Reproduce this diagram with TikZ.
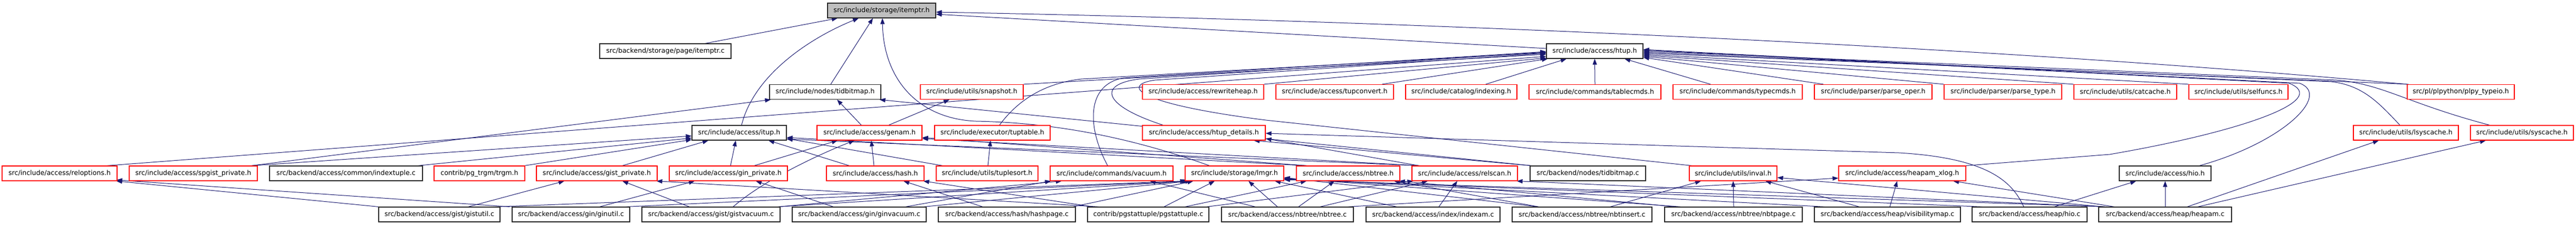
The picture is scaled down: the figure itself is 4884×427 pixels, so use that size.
\documentclass[tikz,border=0pt]{standalone}
\usepackage{fontspec}
\setmainfont{DejaVu Sans}
\usetikzlibrary{arrows.meta}
\definecolor{edgec}{RGB}{25,25,112}
\definecolor{redb}{RGB}{255,0,0}
\definecolor{greyf}{RGB}{191,191,191}
\pgfdeclarelayer{bg}
\pgfsetlayers{bg,main}
\begin{document}
\begin{tikzpicture}[x=1pt,y=-1pt,
  box/.style={rectangle, minimum height=28pt, inner sep=0pt, fill=white, line width=1.2pt, font=\fontsize{12.6}{15}\selectfont, anchor=center},
  rb/.style={box, draw=redb},
  bb/.style={box, draw=black!85},
  e/.style={draw=edgec, line width=1pt, -{Triangle[length=11pt,width=8pt]}}]
\useasboundingbox (0,0) rectangle (4884,427);
% row 0
\node[bb, fill=greyf, minimum width=205pt] (ip) at (1671.5,20) {src/include/storage/itemptr.h};
% row 1
\node[bb, minimum width=249pt] (ic) at (1261.5,97) {src/backend/storage/page/itemptr.c};
\node[bb, minimum width=183pt] (ht) at (3023.5,97) {src/include/access/htup.h};
% row 2
\node[bb, minimum width=211pt] (tb) at (1564.5,174.5) {src/include/nodes/tidbitmap.h};
\node[rb, minimum width=195pt] (sn) at (1842.5,174.5) {src/include/utils/snapshot.h};
\node[rb, minimum width=230pt] (rw) at (2281,174.5) {src/include/access/rewriteheap.h};
\node[rb, minimum width=223pt] (tc) at (2530.5,174.5) {src/include/access/tupconvert.h};
\node[rb, minimum width=211pt] (ix) at (2770.5,174.5) {src/include/catalog/indexing.h};
\node[rb, minimum width=250pt] (tcm) at (3024,174.5) {src/include/commands/tablecmds.h};
\node[rb, minimum width=245pt] (tyc) at (3294.5,174.5) {src/include/commands/typecmds.h};
\node[rb, minimum width=223pt] (po) at (3551.5,174.5) {src/include/parser/parse\_oper.h};
\node[rb, minimum width=223pt] (pt) at (3797.5,174.5) {src/include/parser/parse\_type.h};
\node[rb, minimum width=195pt] (cc) at (4029.5,174.5) {src/include/utils/catcache.h};
\node[rb, minimum width=188pt] (sf) at (4244,174.5) {src/include/utils/selfuncs.h};
\node[rb, minimum width=203pt] (py) at (4665.5,174.5) {src/pl/plpython/plpy\_typeio.h};
% row 3
\node[bb, minimum width=179pt] (it) at (1401.5,252) {src/include/access/itup.h};
\node[rb, minimum width=199pt] (ga) at (1648.5,252) {src/include/access/genam.h};
\node[rb, minimum width=219pt] (tt) at (1881.5,252) {src/include/executor/tuptable.h};
\node[rb, minimum width=233pt] (hd) at (2282.5,252) {src/include/access/htup\_details.h};
\node[rb, minimum width=199pt] (ls) at (4561.5,252) {src/include/utils/lsyscache.h};
\node[rb, minimum width=195pt] (sc) at (4781.5,252) {src/include/utils/syscache.h};
% row 4
\node[rb, minimum width=218pt] (ro) at (113,329) {src/include/access/reloptions.h};
\node[rb, minimum width=243pt] (sp) at (366.5,329) {src/include/access/spgist\_private.h};
\node[bb, minimum width=290pt] (itc) at (656,329) {src/backend/access/common/indextuple.c};
\node[rb, minimum width=172pt] (tg) at (909,329) {contrib/pg\_trgm/trgm.h};
\node[rb, minimum width=229pt] (gp) at (1131.5,329) {src/include/access/gist\_private.h};
\node[rb, minimum width=224pt] (gn) at (1381,329) {src/include/access/gin\_private.h};
\node[rb, minimum width=185pt] (hs) at (1659.5,329) {src/include/access/hash.h};
\node[rb, minimum width=193pt] (ts) at (1871.5,329) {src/include/utils/tuplesort.h};
\node[rb, minimum width=233pt] (vc) at (2107.5,329) {src/include/commands/vacuum.h};
\node[rb, minimum width=187pt] (lm) at (2340.5,329) {src/include/storage/lmgr.h};
\node[rb, minimum width=196pt] (nb) at (2556,329) {src/include/access/nbtree.h};
\node[rb, minimum width=200pt] (rs) at (2777,329) {src/include/access/relscan.h};
\node[bb, minimum width=219pt] (tbc) at (3010.5,329) {src/backend/nodes/tidbitmap.c};
\node[rb, minimum width=166pt] (iv) at (3286,329) {src/include/utils/inval.h};
\node[rb, minimum width=241pt] (hx) at (3606.5,329) {src/include/access/heapam\_xlog.h};
\node[bb, minimum width=174pt] (hh) at (4105,329) {src/include/access/hio.h};
% row 5
\node[bb, minimum width=230pt] (gu) at (833,407) {src/backend/access/gist/gistutil.c};
\node[bb, minimum width=223pt] (gnu) at (1082.5,407) {src/backend/access/gin/ginutil.c};
\node[bb, minimum width=262pt] (gv) at (1348,407) {src/backend/access/gist/gistvacuum.c};
\node[bb, minimum width=254pt] (gnv) at (1629,407) {src/backend/access/gin/ginvacuum.c};
\node[bb, minimum width=260pt] (hp) at (1909,407) {src/backend/access/hash/hashpage.c};
\node[bb, minimum width=230pt] (pg) at (2177,407) {contrib/pgstattuple/pgstattuple.c};
\node[bb, minimum width=250pt] (nbc) at (2441,407) {src/backend/access/nbtree/nbtree.c};
\node[bb, minimum width=254pt] (ia) at (2717,407) {src/backend/access/index/indexam.c};
\node[bb, minimum width=265pt] (ni) at (2999.5,407) {src/backend/access/nbtree/nbtinsert.c};
\node[bb, minimum width=261pt] (np) at (3286.5,407) {src/backend/access/nbtree/nbtpage.c};
\node[bb, minimum width=277pt] (vm) at (3578.5,407) {src/backend/access/heap/visibilitymap.c};
\node[bb, minimum width=218pt] (hc) at (3848,407) {src/backend/access/heap/hio.c};
\node[bb, minimum width=252pt] (hm) at (4105,407) {src/backend/access/heap/heapam.c};

\begin{pgfonlayer}{bg}
\fill[white] (0,0) rectangle (4884,427);
% itemptr.h
\draw[e] ([xshift=75.5pt]ic.north) -- ([xshift=-83.5pt]ip.south);
\draw[e] ([yshift=5pt]ht.west) -- ([yshift=-7pt]ip.east);
\draw[e] ([xshift=10.5pt]tb.north) -- ([xshift=-16.5pt]ip.south);
\draw[e] ([xshift=4.5pt]it.north) .. controls (1430,140) and (1540,70) .. ([xshift=-43.5pt]ip.south);
\draw[e] ([xshift=-47.5pt]lm.north) .. controls (2100,245) and (1950,232) .. (1850,230) .. controls (1740,225) and (1675,150) .. ([xshift=1.5pt]ip.south);
\draw[e] (py.north west) .. controls (3800,90) and (2700,40) .. ([yshift=-3pt]ip.east);
% htup.h left
\draw[e] ([xshift=90pt]ro.north) -- ([yshift=-10pt]ht.west);
\draw[e] (sn.north east) -- ([yshift=-6pt]ht.west);
\draw[e] ([xshift=13.5pt]tt.north) .. controls (1930,190) and (1980,158) .. (2050,150) -- ([yshift=-3pt]ht.west);
\draw[e] ([xshift=-7.5pt]vc.north) .. controls (2060,240) and (2060,160) .. (2130,148) -- ([yshift=-1pt]ht.west);
\draw[e] ([xshift=-77.5pt]hd.north) .. controls (2090,200) and (2080,160) .. (2160,150) -- ([yshift=-2pt]ht.west);
\draw[e] ([xshift=5pt]iv.north west) -- (2400,228) .. controls (2140,195) and (2130,160) .. (2190,152) -- ([yshift=-4pt]ht.west);
\draw[e] (rw.north east) -- ([yshift=-13pt]ht.west);
\draw[e] ([xshift=90pt]tc.north) -- ([xshift=3pt]ht.south west);
\draw[e] ([xshift=46.5pt]ix.north) -- ([xshift=-53.5pt]ht.south);
\draw[e] (tcm.north) -- (ht.south);
\draw[e] ([xshift=-51.5pt]tyc.north) -- ([xshift=56.5pt]ht.south);
% htup.h right
\draw[e] ([xshift=-94.5pt]po.north) -- ([yshift=-12pt]ht.east);
\draw[e] (pt.north west) -- ([yshift=-10pt]ht.east);
\draw[e] (cc.north west) -- ([yshift=-8pt]ht.east);
\draw[e] (sf.north west) -- ([yshift=-6pt]ht.east);
\draw[e] ([xshift=3pt]py.north west) -- ([yshift=-4pt]ht.east);
\draw[e] ([xshift=-11.5pt]ls.north) .. controls (4510,195) and (4480,162) .. (4420,155) -- ([yshift=-2pt]ht.east);
\draw[e] ([xshift=-61.5pt]sc.north) .. controls (4560,195) and (4520,160) .. (4430,152) -- (ht.east);
\draw[e] (hx.north east) -- (4000,293) .. controls (4250,250) and (4420,190) .. (4340,158) -- ([yshift=2pt]ht.east);
\draw[e] ([xshift=65pt]hh.north) .. controls (4330,270) and (4420,180) .. (4360,158) -- ([yshift=3pt]ht.east);
% tidbitmap.h
\draw[e] ([xshift=-15.5pt]ga.north) -- ([xshift=22.5pt]tb.south);
\draw[e] ([xshift=110.5pt]sp.north) -- ([xshift=3pt]tb.south west);
\draw[e] ([xshift=3pt]tbc.north west) -- ([xshift=-3pt]tb.south east);
% snapshot.h
\draw[e] ([xshift=36.5pt]ga.north) -- ([xshift=-42.5pt]sn.south);
% itup.h
\draw[e] ([xshift=110.5pt]sp.north) -- ([yshift=-6pt]it.west);
\draw[e] ([xshift=-9pt]itc.north east) -- ([yshift=-10pt]it.west);
\draw[e] ([xshift=-1pt]tg.north east) -- ([yshift=-13pt]it.west);
\draw[e] ([xshift=48.5pt]gp.north) -- ([xshift=-58.5pt]it.south);
\draw[e] ([xshift=4pt]gn.north) -- ([xshift=-6.5pt]it.south);
\draw[e] ([xshift=-49.5pt]hs.north) -- ([xshift=55.5pt]it.south);
\draw[e] ([xshift=-84.5pt]ts.north) -- ([yshift=-11pt]it.east);
\draw[e] ([xshift=-80pt]nb.north) -- ([yshift=-9pt]it.east);
\draw[e] ([xshift=-87pt]rs.north) -- ([yshift=-12pt]it.east);
% genam.h
\draw[e] ([xshift=49pt]gn.north) -- ([xshift=-60.5pt]ga.south);
\draw[e] ([xshift=-2.5pt]hs.north) -- ([xshift=3.5pt]ga.south);
\draw[e] ([xshift=42pt]gv.north) .. controls (1450,340) and (1560,290) .. ([xshift=-28.5pt]ga.south);
\draw[e] ([xshift=-78pt]nb.north) -- ([yshift=-9pt]ga.east);
\draw[e] ([xshift=-85pt]rs.north) -- ([yshift=-11pt]ga.east);
% tuptable.h
\draw[e] ([xshift=1.5pt]ts.north) -- ([xshift=-3.5pt]tt.south);
% htup_details.h
\draw[e] ([xshift=-87pt]rs.north) -- ([yshift=-11pt]hd.east);
\draw[e] ([xshift=-11pt]hc.north) .. controls (3815,345) and (3770,300) .. (3600,290) -- ([yshift=-1pt]hd.east);
\draw[e] ([xshift=2pt]tbc.north west) -- ([xshift=94.5pt]hd.south);
% lmgr.h
\draw[e] ([xshift=-8pt]gu.north east) -- ([xshift=-92pt]lm.south);
\draw[e] ([xshift=-8pt]gnu.north east) -- ([xshift=-89pt]lm.south);
\draw[e] ([xshift=-5pt]gv.north east) -- ([xshift=-86pt]lm.south);
\draw[e] ([xshift=-5pt]gnv.north east) -- ([xshift=-82pt]lm.south);
\draw[e] ([xshift=-5pt]hp.north east) -- ([xshift=-78pt]lm.south);
\draw[e] ([xshift=30pt]pg.north) -- ([xshift=-37.5pt]lm.south);
\draw[e] ([xshift=-19pt]nbc.north) -- ([xshift=26.5pt]lm.south);
\draw[e] ([xshift=-69pt]ia.north) -- ([xshift=76.5pt]lm.south);
\draw[e] ([xshift=-82.5pt]ni.north) -- ([yshift=-8pt]lm.east);
\draw[e] ([xshift=-100pt]np.north) -- ([yshift=-9pt]lm.east);
\draw[e] ([xshift=-120pt]vm.north) -- ([yshift=-10pt]lm.east);
\draw[e] ([xshift=-90pt]hc.north) -- ([yshift=-11pt]lm.east);
\draw[e] ([xshift=-110pt]hm.north) -- ([yshift=-12pt]lm.east);
% nbtree.h
\draw[e] ([xshift=21pt]nbc.north) -- ([xshift=-26pt]nb.south);
\draw[e] ([xshift=70pt]pg.north) -- ([xshift=-79pt]nb.south);
\draw[e] ([xshift=-82.5pt]ni.north) -- ([xshift=87pt]nb.south);
\draw[e] ([xshift=-110pt]np.north) -- ([xshift=-2pt]nb.south east);
% relscan.h
\draw[e] ([xshift=62pt]nbc.north) -- ([xshift=-70pt]rs.south);
\draw[e] ([xshift=11pt]ia.north) -- ([xshift=-14pt]rs.south);
\draw[e] ([xshift=-115pt]hm.north) -- ([xshift=-2pt]rs.south east);
\draw[e] ([xshift=111pt]pg.north) -- ([xshift=3pt]rs.south west);
% vacuum.h
\draw[e] ([xshift=88pt]gnv.north) -- ([xshift=2pt]vc.south west);
\draw[e] ([xshift=-3pt]gv.north east) -- ([xshift=-94.5pt]vc.south);
\draw[e] ([xshift=-61pt]nbc.north) -- ([xshift=72.5pt]vc.south);
% hash.h
\draw[e] ([xshift=-46pt]hp.north) -- ([xshift=53.5pt]hs.south);
\draw[e] ([xshift=10pt]pg.north west) -- ([xshift=-2pt]hs.south east);
% gin_private.h
\draw[e] ([xshift=54.5pt]gnu.north) -- ([xshift=-64pt]gn.south);
\draw[e] ([xshift=-49pt]gnv.north) -- ([xshift=52pt]gn.south);
% gist_private.h
\draw[e] ([xshift=55pt]gu.north) -- ([xshift=-61.5pt]gp.south);
\draw[e] ([xshift=-41pt]gv.north) -- ([xshift=48.5pt]gp.south);
\draw[e] ([xshift=-94pt]pg.north) -- ([xshift=-2pt]gp.south east);
% reloptions.h
\draw[e] (gu.north west) -- ([xshift=-2pt]ro.south east);
\draw[e] ([xshift=-4pt]gnu.north west) -- ([xshift=-2pt,yshift=2pt]ro.south east);
% inval.h
\draw[e] ([xshift=53.5pt]ni.north) -- ([xshift=-61pt]iv.south);
\draw[e] ([xshift=0.5pt]np.north) -- (iv.south);
\draw[e] ([xshift=-53.5pt]vm.north) -- ([xshift=61pt]iv.south);
\draw[e] ([xshift=10pt]hm.north west) -- ([yshift=-8pt]iv.east);
% heapam_xlog.h
\draw[e] ([xshift=115pt]nbc.north) -- ([yshift=-9pt]hx.west);
\draw[e] ([xshift=4.5pt]vm.north) -- ([xshift=-9.5pt]hx.south);
\draw[e] ([xshift=30pt]hm.north west) -- ([xshift=96.5pt]hx.south);
% hio.h
\draw[e] ([xshift=47pt]hc.north) -- ([xshift=-55pt]hh.south);
\draw[e] (hm.north) -- (hh.south);
% lsyscache.h / syscache.h
\draw[e] ([xshift=42pt]hm.north) -- ([xshift=-51.5pt]ls.south);
\draw[e] ([xshift=62pt]hm.north) -- ([xshift=-68.5pt]sc.south);
\end{pgfonlayer}
\end{tikzpicture}
\end{document}
